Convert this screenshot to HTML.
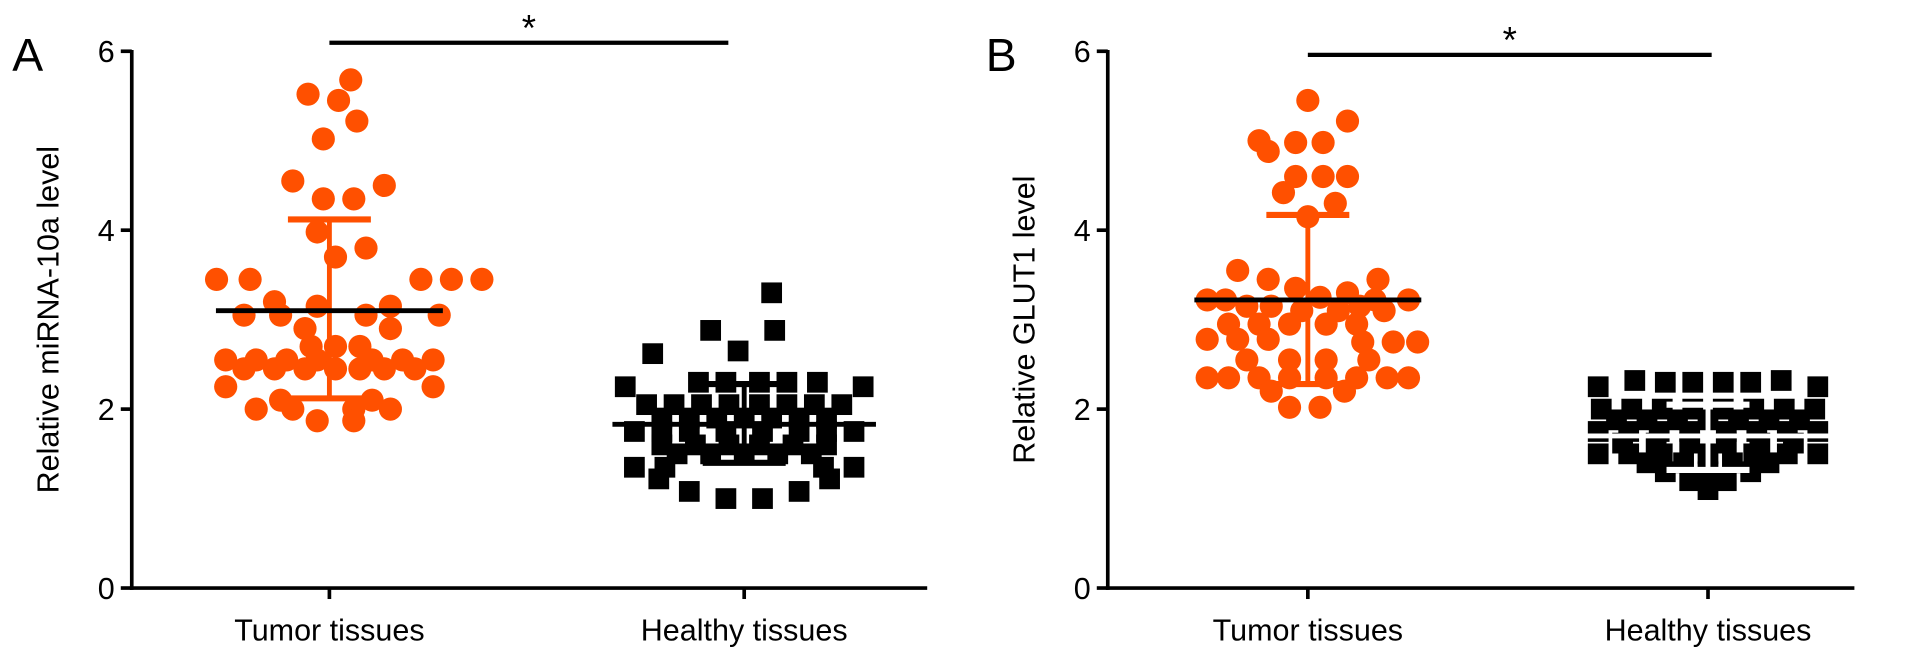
<!DOCTYPE html>
<html><head><meta charset="utf-8"><style>
html,body{margin:0;padding:0;background:#fff;}
svg{display:block;font-family:"Liberation Sans",Arial,sans-serif;}
</style></head><body>
<svg id="c" width="1913" height="659" viewBox="0 0 1913 659"><g id="root" transform="scale(1.22)"></g></svg>
<script>
// ---- data ----
const categories = ["Tumor tissues","Healthy tissues"];
const yTicks = [0,2,4,6];
const yTitles = ["Relative miRNA-10a level","Relative GLUT1 level"];
const panelLetters = ["A","B"];
const aTumorVals = [5.68,5.52,5.45,5.22,5.02,4.55,4.5,4.35,4.35,3.98,3.8,3.7,3.45,3.45,3.45,3.45,3.45,3.2,3.15,3.15,3.05,3.05,3.05,3.05,2.9,2.9,2.7,2.7,2.7,2.55,2.55,2.55,2.55,2.55,2.55,2.55,2.45,2.45,2.45,2.45,2.45,2.45,2.45,2.25,2.25,2.1,2.1,2.0,2.0,2.0,2.0,1.87,1.87];
const aTumorSlot = [0.7,-0.7,0.3,0.9,-0.2,-1.2,1.8,-0.2,0.8,-0.4,1.2,0.2,-3.7,-2.6,3,4,5,-1.8,-0.4,2,-2.8,-1.6,1.2,3.6,-0.8,2,-0.6,0.2,1,-3.4,-2.4,-1.4,-0.4,1.4,2.4,3.4,-2.8,-1.8,-0.8,0.2,1,1.8,2.8,-3.4,3.4,-1.6,1.4,-2.4,-1.2,0.8,2,-0.4,0.8];
const aTumorStats = {mean:3.1, lo:2.12, hi:4.12};
const aHealthyVals = [3.3,2.88,2.88,2.62,2.65,2.3,2.3,2.3,2.3,2.3,2.25,2.25,2.05,2.05,2.05,2.05,2.05,2.05,2.05,2.05,1.9,1.9,1.9,1.9,1.9,1.9,1.9,1.75,1.75,1.75,1.75,1.75,1.75,1.75,1.75,1.6,1.6,1.6,1.6,1.6,1.6,1.5,1.5,1.5,1.5,1.5,1.35,1.35,1.35,1.35,1.22,1.22,1.08,1.08,1.0,1.0];
const aHealthySlot = [0.9,-1.1,1,-3,-0.2,-1.5,-0.6,0.5,1.4,2.4,-3.9,3.9,-3.2,-2.3,-1.4,-0.5,0.5,1.4,2.3,3.2,-2.7,-1.8,-0.9,0,0.9,1.8,2.7,-3.6,-2.7,-1.8,-0.6,0.6,1.8,2.7,3.6,-2.7,-1.6,-0.5,0.5,1.6,2.7,-2.2,-1.1,0,1.1,2.2,-3.6,-2.6,2.6,3.6,-2.8,2.8,-1.8,1.8,-0.6,0.6];
const aHealthyStats = {mean:1.83, lo:1.4, hi:2.28};
const bTumorVals = [5.45,5.22,5.0,4.98,4.98,4.88,4.6,4.6,4.6,4.42,4.3,4.15,3.55,3.45,3.45,3.35,3.3,3.25,3.22,3.22,3.22,3.22,3.15,3.15,3.15,3.1,3.1,3.1,2.95,2.95,2.95,2.95,2.95,2.78,2.78,2.78,2.75,2.75,2.75,2.55,2.55,2.55,2.55,2.35,2.35,2.35,2.35,2.35,2.35,2.35,2.35,2.2,2.2,2.02,2.02];
const bTumorSlot = [0,1.3,-1.6,-0.4,0.5,-1.3,-0.4,0.5,1.3,-0.8,0.9,0,-2.3,-1.3,2.3,-0.4,1.3,0.4,-3.3,-2.7,3.3,2.2,-2,-1.2,1.7,-0.2,1,2.5,-2.6,-1.6,-0.6,0.6,1.6,-3.3,-2.3,-1.3,1.8,2.8,3.6,-2,-0.6,0.6,2,-3.3,-2.6,-1.6,-0.6,0.6,1.6,2.6,3.3,-1.2,1.2,-0.6,0.4];
const bTumorStats = {mean:3.22, lo:2.28, hi:4.17};
const bHealthyVals = [2.32,2.32,2.3,2.3,2.3,2.3,2.25,2.25,2.0,2.0,2.0,2.0,2.0,2.0,2.0,2.0,1.88,1.88,1.88,1.88,1.88,1.88,1.88,1.75,1.75,1.75,1.75,1.75,1.75,1.75,1.75,1.62,1.62,1.62,1.62,1.62,1.62,1.5,1.5,1.5,1.5,1.5,1.5,1.5,1.4,1.4,1.4,1.4,1.3,1.3,1.3,1.2,1.2,1.1];
const bHealthySlot = [-2.4,2.4,-1.4,-0.5,0.5,1.4,-3.6,3.6,-3.5,-2.5,-1.5,-0.5,0.5,1.5,2.5,3.5,-3,-2,-1,0,1,2,3,-3.6,-2.6,-1.6,-0.6,0.6,1.6,2.6,3.6,-2.8,-1.7,-0.6,0.6,1.7,2.8,-3.6,-2.6,-1.5,0,1.5,2.6,3.6,-2,-0.8,0.8,2,-1.4,0,1.4,-0.6,0.6,0];
const bHealthyStats = {mean:1.7, lo:1.32, hi:2.05};

const NS="http://www.w3.org/2000/svg";
const svg=document.getElementById('root');
function mk(t,a,p){const e=document.createElementNS(NS,t);for(const k in a)e.setAttribute(k,a[k]);(p||svg).appendChild(e);return e;}
const yPx = v => 482 - v*73.33;
const ORANGE="#ff5000";

const panels=[
 {x0:108,x1:760,cx:[270,610],slotW:25,t:[aTumorVals,aTumorSlot,aTumorStats],h:[aHealthyVals,aHealthySlot,aHealthyStats],hErr:"#000",sig:[270,597,35],letter:[10,58]},
 {x0:908,x1:1520,cx:[1072,1400],slotW:25,t:[bTumorVals,bTumorSlot,bTumorStats],h:[bHealthyVals,bHealthySlot,bHealthyStats],hErr:"#fff",sig:[1072,1403,45],letter:[808,58]}
];
panels.forEach((p,pi)=>{
 const g=mk('g',{});
 
 
 const L=mk('text',{x:p.letter[0],y:p.letter[1],'font-size':38,fill:'#000'},g);L.textContent=panelLetters[pi];
 
 const ya=mk('line',{x1:p.x0,y1:yPx(6)-1,x2:p.x0,y2:yPx(0)+1.5,stroke:'#000','stroke-width':3},g);
 
 const xa=mk('line',{x1:p.x0-1.5,y1:yPx(0),x2:p.x1,y2:yPx(0),stroke:'#000','stroke-width':3},g);
 
 yTicks.forEach(v=>{
  mk('line',{x1:p.x0-9,y1:yPx(v),x2:p.x0,y2:yPx(v),stroke:'#000','stroke-width':3},g);
  const t=mk('text',{x:p.x0-14,y:yPx(v)+9,'font-size':25,'text-anchor':'end',fill:'#000'},g);t.textContent=v;
  
 });
 const yt=mk('text',{x:0,y:0,'font-size':25,'text-anchor':'middle',fill:'#000',transform:`translate(${p.x0-60},${yPx(3)}) rotate(-90)`},g);
 yt.textContent=yTitles[pi];
 categories.forEach((c,ci)=>{
  mk('line',{x1:p.cx[ci],y1:yPx(0),x2:p.cx[ci],y2:yPx(0)+9,stroke:'#000','stroke-width':3},g);
  const t=mk('text',{x:p.cx[ci],y:525,'font-size':25,'text-anchor':'middle',fill:'#000'},g);t.textContent=c;
  
 });
 const [tv,ts,tst]=p.t;
 tv.forEach((v,i)=>{const c=mk('circle',{cx:p.cx[0]+ts[i]*p.slotW,cy:yPx(v),r:9.5,fill:ORANGE},g);
  });
 const [hv,hs,hst]=p.h;
 hv.forEach((v,i)=>{const r=mk('rect',{x:p.cx[1]+hs[i]*p.slotW-8.5,y:yPx(v)-8.5,width:17,height:17,fill:'#000'},g);
  });
 function err(cx,st,col,capW,meanW,meanCol){
  mk('line',{x1:cx,y1:yPx(st.hi),x2:cx,y2:yPx(st.lo),stroke:col,'stroke-width':4},g);
  mk('line',{x1:cx-capW,y1:yPx(st.hi),x2:cx+capW,y2:yPx(st.hi),stroke:col,'stroke-width':5},g);
  mk('line',{x1:cx-capW,y1:yPx(st.lo),x2:cx+capW,y2:yPx(st.lo),stroke:col,'stroke-width':5},g);
  const m=mk('line',{x1:cx-meanW,y1:yPx(st.mean),x2:cx+meanW,y2:yPx(st.mean),stroke:meanCol,'stroke-width':4},g);
  
 }
 err(p.cx[0],tst,ORANGE,34,93,'#000');
 err(p.cx[1],hst,p.hErr,34,108,pi===0?'#000':'#fff');
 const s=mk('line',{x1:p.sig[0],y1:p.sig[2],x2:p.sig[1],y2:p.sig[2],stroke:'#000','stroke-width':3.5},g);
 
 const st=mk('text',{x:(p.sig[0]+p.sig[1])/2,y:p.sig[2]-2,'font-size':30,'text-anchor':'middle',fill:'#000'},g);st.textContent='*';
 
});
</script>
</body></html>
